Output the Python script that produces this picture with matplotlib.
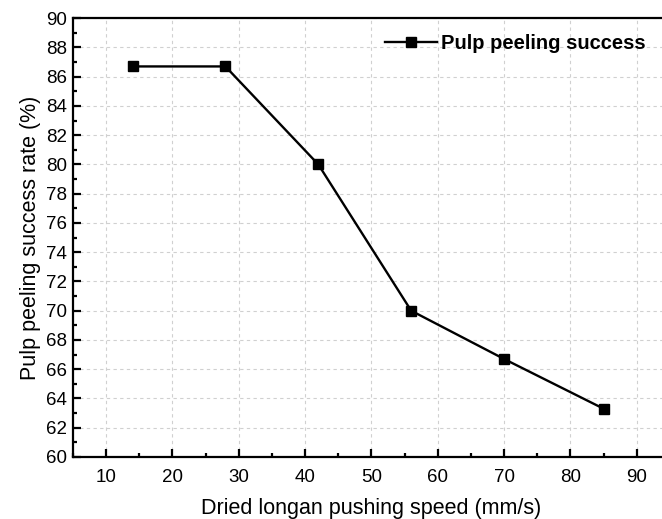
import numpy as np
import matplotlib
matplotlib.use("Agg")
import matplotlib.pyplot as plt
from matplotlib.ticker import MultipleLocator

plt.rcParams['font.family'] = ['Liberation Sans', 'DejaVu Sans']

# данные
speed = [14, 28, 42, 56, 70, 85]
success = [86.7, 86.7, 80.0, 70.0, 66.7, 63.3]
series_label = 'Pulp peeling success'
x_label = 'Dried longan pushing speed (mm/s)'
y_label = 'Pulp peeling success rate (%)'

fig = plt.figure(figsize=(6.62, 5.19), dpi=100)
ax = fig.add_axes([0.110, 0.1195, 0.902, 0.8455])

ax.plot(speed, success, color='black', lw=1.7, marker='s', ms=7.5,
        label=series_label)

ax.set_xlim(5, 95)
ax.set_ylim(60, 90)
ax.xaxis.set_major_locator(MultipleLocator(10))
ax.xaxis.set_minor_locator(MultipleLocator(5))
ax.yaxis.set_major_locator(MultipleLocator(2))
ax.yaxis.set_minor_locator(MultipleLocator(1))

ax.grid(True, which='major', color='#d0d0d0', ls=(0, (3, 3)), lw=0.8)
ax.set_axisbelow(True)

for s in ax.spines.values():
    s.set_linewidth(1.6)
ax.spines['right'].set_visible(False)

ax.tick_params(which='both', direction='in', width=1.6, labelsize=13.5)
ax.tick_params(which='major', length=6)
ax.tick_params(which='minor', length=3)
ax.tick_params(axis='x', pad=9)
ax.tick_params(axis='y', pad=4)

ax.set_xlabel(x_label, fontsize=15.5, labelpad=8)
ax.set_ylabel(y_label, fontsize=15.5, labelpad=4)

leg = ax.legend(loc='upper right', bbox_to_anchor=(0.99, 1.005), frameon=False,
                handlelength=2.6, handletextpad=0.2, prop={'weight': 'bold', 'size': 14.5})

fig.savefig('out.png', dpi=100)
